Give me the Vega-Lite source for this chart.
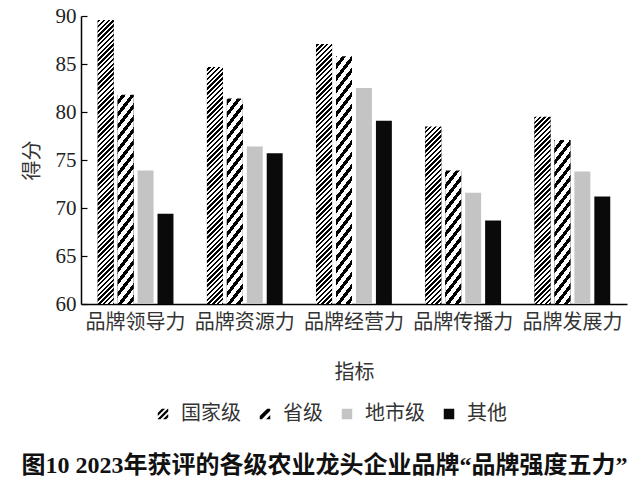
{
  "$schema": "https://vega.github.io/schema/vega-lite/v6.json",
  "width": 546,
  "height": 288,
  "autosize": "none",
  "padding": {"left": 81, "top": 16, "right": 13, "bottom": 178},
  "background": "white",
  "title": {
    "text": "图10 2023年获评的各级农业龙头企业品牌“品牌强度五力”",
    "orient": "bottom",
    "anchor": "middle",
    "frame": "bounds",
    "font": "Liberation Serif, Noto Sans CJK SC",
    "fontSize": 24,
    "fontWeight": "bold",
    "color": "#111",
    "offset": 30
  },
  "data": {
    "values": [
      {"indicator": "品牌领导力", "level": "国家级", "score": 89.7},
      {"indicator": "品牌领导力", "level": "省级", "score": 81.9},
      {"indicator": "品牌领导力", "level": "地市级", "score": 73.9},
      {"indicator": "品牌领导力", "level": "其他", "score": 69.4},
      {"indicator": "品牌资源力", "level": "国家级", "score": 84.8},
      {"indicator": "品牌资源力", "level": "省级", "score": 81.5},
      {"indicator": "品牌资源力", "level": "地市级", "score": 76.4},
      {"indicator": "品牌资源力", "level": "其他", "score": 75.7},
      {"indicator": "品牌经营力", "level": "国家级", "score": 87.2},
      {"indicator": "品牌经营力", "level": "省级", "score": 85.9},
      {"indicator": "品牌经营力", "level": "地市级", "score": 82.5},
      {"indicator": "品牌经营力", "level": "其他", "score": 79.1},
      {"indicator": "品牌传播力", "level": "国家级", "score": 78.6},
      {"indicator": "品牌传播力", "level": "省级", "score": 74.0},
      {"indicator": "品牌传播力", "level": "地市级", "score": 71.6},
      {"indicator": "品牌传播力", "level": "其他", "score": 68.7},
      {"indicator": "品牌发展力", "level": "国家级", "score": 79.6},
      {"indicator": "品牌发展力", "level": "省级", "score": 77.2},
      {"indicator": "品牌发展力", "level": "地市级", "score": 73.8},
      {"indicator": "品牌发展力", "level": "其他", "score": 71.2}
    ]
  },
  "encoding": {
    "x": {
      "field": "indicator",
      "type": "nominal",
      "sort": ["品牌领导力", "品牌资源力", "品牌经营力", "品牌传播力", "品牌发展力"],
      "scale": {"paddingInner": 0.27, "paddingOuter": 0.135},
      "axis": {
        "title": "指标",
        "labelAngle": 0,
        "ticks": false,
        "domainColor": "#000",
        "domainWidth": 1.5,
        "labelFont": "Noto Sans CJK SC",
        "labelFontSize": 20,
        "labelColor": "#333",
        "labelPadding": 8,
        "titleFont": "Noto Sans CJK SC",
        "titleFontSize": 20,
        "titleFontWeight": "normal",
        "titleColor": "#333",
        "titlePadding": 30
      }
    },
    "xOffset": {
      "field": "level",
      "type": "nominal",
      "scale": {"domain": ["国家级", "省级", "地市级", "其他"], "paddingInner": 0.2, "paddingOuter": 0.1}
    }
  },
  "layer": [
    {
      "mark": {"type": "bar"},
      "encoding": {
        "y": {
          "field": "score",
          "type": "quantitative",
          "scale": {"domain": [60, 90], "zero": false, "nice": false},
          "axis": {
            "title": "得分",
            "values": [60, 65, 70, 75, 80, 85, 90],
            "grid": false,
            "domainColor": "#000",
            "domainWidth": 1.5,
            "tickColor": "#000",
            "tickWidth": 1.2,
            "tickSize": -6,
            "labelFont": "Liberation Serif",
            "labelFontSize": 21,
            "labelColor": "#222",
            "labelPadding": 11,
            "titleFont": "Noto Sans CJK SC",
            "titleFontSize": 20,
            "titleFontWeight": "normal",
            "titleColor": "#333",
            "titlePadding": 13
          }
        },
        "y2": {"datum": 60},
        "color": {
          "field": "level",
          "type": "nominal",
          "scale": {
            "domain": ["国家级", "省级", "地市级", "其他"],
            "range": ["#000000", "#000000", "#c4c4c4", "#0a0a0a"]
          },
          "legend": {
            "title": null,
            "orient": "none",
            "legendX": 72,
            "legendY": 388,
            "direction": "horizontal"
          }
        }
      }
    },
    {
      "transform": [{"filter": "datum.level === '国家级'"}],
      "layer": [
        {"mark": {"type": "bar", "fill": {"gradient": "linear", "x1": 0, "y1": 0, "x2": 0.47856, "y2": 1.44109, "stops": [{"offset":0,"color":"#000"},{"offset":0.03125,"color":"#000"},{"offset":0.03125,"color":"#fff"},{"offset":0.0625,"color":"#fff"},{"offset":0.0625,"color":"#000"},{"offset":0.09375,"color":"#000"},{"offset":0.09375,"color":"#fff"},{"offset":0.125,"color":"#fff"},{"offset":0.125,"color":"#000"},{"offset":0.15625,"color":"#000"},{"offset":0.15625,"color":"#fff"},{"offset":0.1875,"color":"#fff"},{"offset":0.1875,"color":"#000"},{"offset":0.21875,"color":"#000"},{"offset":0.21875,"color":"#fff"},{"offset":0.25,"color":"#fff"},{"offset":0.25,"color":"#000"},{"offset":0.28125,"color":"#000"},{"offset":0.28125,"color":"#fff"},{"offset":0.3125,"color":"#fff"},{"offset":0.3125,"color":"#000"},{"offset":0.34375,"color":"#000"},{"offset":0.34375,"color":"#fff"},{"offset":0.375,"color":"#fff"},{"offset":0.375,"color":"#000"},{"offset":0.40625,"color":"#000"},{"offset":0.40625,"color":"#fff"},{"offset":0.4375,"color":"#fff"},{"offset":0.4375,"color":"#000"},{"offset":0.46875,"color":"#000"},{"offset":0.46875,"color":"#fff"},{"offset":0.5,"color":"#fff"},{"offset":0.5,"color":"#000"},{"offset":0.53125,"color":"#000"},{"offset":0.53125,"color":"#fff"},{"offset":0.5625,"color":"#fff"},{"offset":0.5625,"color":"#000"},{"offset":0.59375,"color":"#000"},{"offset":0.59375,"color":"#fff"},{"offset":0.625,"color":"#fff"},{"offset":0.625,"color":"#000"},{"offset":0.65625,"color":"#000"},{"offset":0.65625,"color":"#fff"},{"offset":0.6875,"color":"#fff"},{"offset":0.6875,"color":"#000"},{"offset":0.71875,"color":"#000"},{"offset":0.71875,"color":"#fff"},{"offset":0.75,"color":"#fff"},{"offset":0.75,"color":"#000"},{"offset":0.78125,"color":"#000"},{"offset":0.78125,"color":"#fff"},{"offset":0.8125,"color":"#fff"},{"offset":0.8125,"color":"#000"},{"offset":0.84375,"color":"#000"},{"offset":0.84375,"color":"#fff"},{"offset":0.875,"color":"#fff"},{"offset":0.875,"color":"#000"},{"offset":1,"color":"#000"}]}}, "encoding": {"y": {"datum": 65, "type": "quantitative"}, "y2": {"datum": 60}}},
        {"mark": {"type": "bar", "fill": {"gradient": "linear", "x1": 0, "y1": 0, "x2": 0.47856, "y2": 1.44109, "stops": [{"offset":0,"color":"#000"},{"offset":0.03125,"color":"#000"},{"offset":0.03125,"color":"#fff"},{"offset":0.0625,"color":"#fff"},{"offset":0.0625,"color":"#000"},{"offset":0.09375,"color":"#000"},{"offset":0.09375,"color":"#fff"},{"offset":0.125,"color":"#fff"},{"offset":0.125,"color":"#000"},{"offset":0.15625,"color":"#000"},{"offset":0.15625,"color":"#fff"},{"offset":0.1875,"color":"#fff"},{"offset":0.1875,"color":"#000"},{"offset":0.21875,"color":"#000"},{"offset":0.21875,"color":"#fff"},{"offset":0.25,"color":"#fff"},{"offset":0.25,"color":"#000"},{"offset":0.28125,"color":"#000"},{"offset":0.28125,"color":"#fff"},{"offset":0.3125,"color":"#fff"},{"offset":0.3125,"color":"#000"},{"offset":0.34375,"color":"#000"},{"offset":0.34375,"color":"#fff"},{"offset":0.375,"color":"#fff"},{"offset":0.375,"color":"#000"},{"offset":0.40625,"color":"#000"},{"offset":0.40625,"color":"#fff"},{"offset":0.4375,"color":"#fff"},{"offset":0.4375,"color":"#000"},{"offset":0.46875,"color":"#000"},{"offset":0.46875,"color":"#fff"},{"offset":0.5,"color":"#fff"},{"offset":0.5,"color":"#000"},{"offset":0.53125,"color":"#000"},{"offset":0.53125,"color":"#fff"},{"offset":0.5625,"color":"#fff"},{"offset":0.5625,"color":"#000"},{"offset":0.59375,"color":"#000"},{"offset":0.59375,"color":"#fff"},{"offset":0.625,"color":"#fff"},{"offset":0.625,"color":"#000"},{"offset":0.65625,"color":"#000"},{"offset":0.65625,"color":"#fff"},{"offset":0.6875,"color":"#fff"},{"offset":0.6875,"color":"#000"},{"offset":0.71875,"color":"#000"},{"offset":0.71875,"color":"#fff"},{"offset":0.75,"color":"#fff"},{"offset":0.75,"color":"#000"},{"offset":0.78125,"color":"#000"},{"offset":0.78125,"color":"#fff"},{"offset":0.8125,"color":"#fff"},{"offset":0.8125,"color":"#000"},{"offset":0.84375,"color":"#000"},{"offset":0.84375,"color":"#fff"},{"offset":0.875,"color":"#fff"},{"offset":0.875,"color":"#000"},{"offset":1,"color":"#000"}]}}, "encoding": {"y": {"datum": 70, "type": "quantitative"}, "y2": {"datum": 65}}},
        {"mark": {"type": "bar", "fill": {"gradient": "linear", "x1": 0, "y1": 0, "x2": 0.47856, "y2": 1.44109, "stops": [{"offset":0,"color":"#000"},{"offset":0.03125,"color":"#000"},{"offset":0.03125,"color":"#fff"},{"offset":0.0625,"color":"#fff"},{"offset":0.0625,"color":"#000"},{"offset":0.09375,"color":"#000"},{"offset":0.09375,"color":"#fff"},{"offset":0.125,"color":"#fff"},{"offset":0.125,"color":"#000"},{"offset":0.15625,"color":"#000"},{"offset":0.15625,"color":"#fff"},{"offset":0.1875,"color":"#fff"},{"offset":0.1875,"color":"#000"},{"offset":0.21875,"color":"#000"},{"offset":0.21875,"color":"#fff"},{"offset":0.25,"color":"#fff"},{"offset":0.25,"color":"#000"},{"offset":0.28125,"color":"#000"},{"offset":0.28125,"color":"#fff"},{"offset":0.3125,"color":"#fff"},{"offset":0.3125,"color":"#000"},{"offset":0.34375,"color":"#000"},{"offset":0.34375,"color":"#fff"},{"offset":0.375,"color":"#fff"},{"offset":0.375,"color":"#000"},{"offset":0.40625,"color":"#000"},{"offset":0.40625,"color":"#fff"},{"offset":0.4375,"color":"#fff"},{"offset":0.4375,"color":"#000"},{"offset":0.46875,"color":"#000"},{"offset":0.46875,"color":"#fff"},{"offset":0.5,"color":"#fff"},{"offset":0.5,"color":"#000"},{"offset":0.53125,"color":"#000"},{"offset":0.53125,"color":"#fff"},{"offset":0.5625,"color":"#fff"},{"offset":0.5625,"color":"#000"},{"offset":0.59375,"color":"#000"},{"offset":0.59375,"color":"#fff"},{"offset":0.625,"color":"#fff"},{"offset":0.625,"color":"#000"},{"offset":0.65625,"color":"#000"},{"offset":0.65625,"color":"#fff"},{"offset":0.6875,"color":"#fff"},{"offset":0.6875,"color":"#000"},{"offset":0.71875,"color":"#000"},{"offset":0.71875,"color":"#fff"},{"offset":0.75,"color":"#fff"},{"offset":0.75,"color":"#000"},{"offset":0.78125,"color":"#000"},{"offset":0.78125,"color":"#fff"},{"offset":0.8125,"color":"#fff"},{"offset":0.8125,"color":"#000"},{"offset":0.84375,"color":"#000"},{"offset":0.84375,"color":"#fff"},{"offset":0.875,"color":"#fff"},{"offset":0.875,"color":"#000"},{"offset":1,"color":"#000"}]}}, "encoding": {"y": {"datum": 75, "type": "quantitative"}, "y2": {"datum": 70}}},
        {"mark": {"type": "bar", "fill": {"gradient": "linear", "x1": 0, "y1": 0, "x2": 0.47856, "y2": 1.44109, "stops": [{"offset":0,"color":"#000"},{"offset":0.03125,"color":"#000"},{"offset":0.03125,"color":"#fff"},{"offset":0.0625,"color":"#fff"},{"offset":0.0625,"color":"#000"},{"offset":0.09375,"color":"#000"},{"offset":0.09375,"color":"#fff"},{"offset":0.125,"color":"#fff"},{"offset":0.125,"color":"#000"},{"offset":0.15625,"color":"#000"},{"offset":0.15625,"color":"#fff"},{"offset":0.1875,"color":"#fff"},{"offset":0.1875,"color":"#000"},{"offset":0.21875,"color":"#000"},{"offset":0.21875,"color":"#fff"},{"offset":0.25,"color":"#fff"},{"offset":0.25,"color":"#000"},{"offset":0.28125,"color":"#000"},{"offset":0.28125,"color":"#fff"},{"offset":0.3125,"color":"#fff"},{"offset":0.3125,"color":"#000"},{"offset":0.34375,"color":"#000"},{"offset":0.34375,"color":"#fff"},{"offset":0.375,"color":"#fff"},{"offset":0.375,"color":"#000"},{"offset":0.40625,"color":"#000"},{"offset":0.40625,"color":"#fff"},{"offset":0.4375,"color":"#fff"},{"offset":0.4375,"color":"#000"},{"offset":0.46875,"color":"#000"},{"offset":0.46875,"color":"#fff"},{"offset":0.5,"color":"#fff"},{"offset":0.5,"color":"#000"},{"offset":0.53125,"color":"#000"},{"offset":0.53125,"color":"#fff"},{"offset":0.5625,"color":"#fff"},{"offset":0.5625,"color":"#000"},{"offset":0.59375,"color":"#000"},{"offset":0.59375,"color":"#fff"},{"offset":0.625,"color":"#fff"},{"offset":0.625,"color":"#000"},{"offset":0.65625,"color":"#000"},{"offset":0.65625,"color":"#fff"},{"offset":0.6875,"color":"#fff"},{"offset":0.6875,"color":"#000"},{"offset":0.71875,"color":"#000"},{"offset":0.71875,"color":"#fff"},{"offset":0.75,"color":"#fff"},{"offset":0.75,"color":"#000"},{"offset":0.78125,"color":"#000"},{"offset":0.78125,"color":"#fff"},{"offset":0.8125,"color":"#fff"},{"offset":0.8125,"color":"#000"},{"offset":0.84375,"color":"#000"},{"offset":0.84375,"color":"#fff"},{"offset":0.875,"color":"#fff"},{"offset":0.875,"color":"#000"},{"offset":1,"color":"#000"}]}}, "encoding": {"y": {"datum": 80, "type": "quantitative"}, "y2": {"datum": 75}}},
        {"mark": {"type": "bar", "fill": {"gradient": "linear", "x1": 0, "y1": 0, "x2": 0.47856, "y2": 1.44109, "stops": [{"offset":0,"color":"#000"},{"offset":0.03125,"color":"#000"},{"offset":0.03125,"color":"#fff"},{"offset":0.0625,"color":"#fff"},{"offset":0.0625,"color":"#000"},{"offset":0.09375,"color":"#000"},{"offset":0.09375,"color":"#fff"},{"offset":0.125,"color":"#fff"},{"offset":0.125,"color":"#000"},{"offset":0.15625,"color":"#000"},{"offset":0.15625,"color":"#fff"},{"offset":0.1875,"color":"#fff"},{"offset":0.1875,"color":"#000"},{"offset":0.21875,"color":"#000"},{"offset":0.21875,"color":"#fff"},{"offset":0.25,"color":"#fff"},{"offset":0.25,"color":"#000"},{"offset":0.28125,"color":"#000"},{"offset":0.28125,"color":"#fff"},{"offset":0.3125,"color":"#fff"},{"offset":0.3125,"color":"#000"},{"offset":0.34375,"color":"#000"},{"offset":0.34375,"color":"#fff"},{"offset":0.375,"color":"#fff"},{"offset":0.375,"color":"#000"},{"offset":0.40625,"color":"#000"},{"offset":0.40625,"color":"#fff"},{"offset":0.4375,"color":"#fff"},{"offset":0.4375,"color":"#000"},{"offset":0.46875,"color":"#000"},{"offset":0.46875,"color":"#fff"},{"offset":0.5,"color":"#fff"},{"offset":0.5,"color":"#000"},{"offset":0.53125,"color":"#000"},{"offset":0.53125,"color":"#fff"},{"offset":0.5625,"color":"#fff"},{"offset":0.5625,"color":"#000"},{"offset":0.59375,"color":"#000"},{"offset":0.59375,"color":"#fff"},{"offset":0.625,"color":"#fff"},{"offset":0.625,"color":"#000"},{"offset":0.65625,"color":"#000"},{"offset":0.65625,"color":"#fff"},{"offset":0.6875,"color":"#fff"},{"offset":0.6875,"color":"#000"},{"offset":0.71875,"color":"#000"},{"offset":0.71875,"color":"#fff"},{"offset":0.75,"color":"#fff"},{"offset":0.75,"color":"#000"},{"offset":0.78125,"color":"#000"},{"offset":0.78125,"color":"#fff"},{"offset":0.8125,"color":"#fff"},{"offset":0.8125,"color":"#000"},{"offset":0.84375,"color":"#000"},{"offset":0.84375,"color":"#fff"},{"offset":0.875,"color":"#fff"},{"offset":0.875,"color":"#000"},{"offset":1,"color":"#000"}]}}, "encoding": {"y": {"datum": 85, "type": "quantitative"}, "y2": {"datum": 80}}},
        {"mark": {"type": "bar", "fill": {"gradient": "linear", "x1": 0, "y1": 0, "x2": 0.47856, "y2": 1.44109, "stops": [{"offset":0,"color":"#000"},{"offset":0.03125,"color":"#000"},{"offset":0.03125,"color":"#fff"},{"offset":0.0625,"color":"#fff"},{"offset":0.0625,"color":"#000"},{"offset":0.09375,"color":"#000"},{"offset":0.09375,"color":"#fff"},{"offset":0.125,"color":"#fff"},{"offset":0.125,"color":"#000"},{"offset":0.15625,"color":"#000"},{"offset":0.15625,"color":"#fff"},{"offset":0.1875,"color":"#fff"},{"offset":0.1875,"color":"#000"},{"offset":0.21875,"color":"#000"},{"offset":0.21875,"color":"#fff"},{"offset":0.25,"color":"#fff"},{"offset":0.25,"color":"#000"},{"offset":0.28125,"color":"#000"},{"offset":0.28125,"color":"#fff"},{"offset":0.3125,"color":"#fff"},{"offset":0.3125,"color":"#000"},{"offset":0.34375,"color":"#000"},{"offset":0.34375,"color":"#fff"},{"offset":0.375,"color":"#fff"},{"offset":0.375,"color":"#000"},{"offset":0.40625,"color":"#000"},{"offset":0.40625,"color":"#fff"},{"offset":0.4375,"color":"#fff"},{"offset":0.4375,"color":"#000"},{"offset":0.46875,"color":"#000"},{"offset":0.46875,"color":"#fff"},{"offset":0.5,"color":"#fff"},{"offset":0.5,"color":"#000"},{"offset":0.53125,"color":"#000"},{"offset":0.53125,"color":"#fff"},{"offset":0.5625,"color":"#fff"},{"offset":0.5625,"color":"#000"},{"offset":0.59375,"color":"#000"},{"offset":0.59375,"color":"#fff"},{"offset":0.625,"color":"#fff"},{"offset":0.625,"color":"#000"},{"offset":0.65625,"color":"#000"},{"offset":0.65625,"color":"#fff"},{"offset":0.6875,"color":"#fff"},{"offset":0.6875,"color":"#000"},{"offset":0.71875,"color":"#000"},{"offset":0.71875,"color":"#fff"},{"offset":0.75,"color":"#fff"},{"offset":0.75,"color":"#000"},{"offset":0.78125,"color":"#000"},{"offset":0.78125,"color":"#fff"},{"offset":0.8125,"color":"#fff"},{"offset":0.8125,"color":"#000"},{"offset":0.84375,"color":"#000"},{"offset":0.84375,"color":"#fff"},{"offset":0.875,"color":"#fff"},{"offset":0.875,"color":"#000"},{"offset":1,"color":"#000"}]}}, "encoding": {"y": {"datum": 90, "type": "quantitative"}, "y2": {"datum": 85}}}
      ]
    },
    {
      "transform": [{"filter": "datum.level === '省级'"}],
      "layer": [
        {"mark": {"type": "bar", "fill": {"gradient": "linear", "x1": 0, "y1": 0, "x2": 0.54584, "y2": 1.26438, "stops": [{"offset":0,"color":"#000"},{"offset":0.075,"color":"#000"},{"offset":0.075,"color":"#fff"},{"offset":0.1667,"color":"#fff"},{"offset":0.1667,"color":"#000"},{"offset":0.2417,"color":"#000"},{"offset":0.2417,"color":"#fff"},{"offset":0.3333,"color":"#fff"},{"offset":0.3333,"color":"#000"},{"offset":0.4083,"color":"#000"},{"offset":0.4083,"color":"#fff"},{"offset":0.5,"color":"#fff"},{"offset":0.5,"color":"#000"},{"offset":0.575,"color":"#000"},{"offset":0.575,"color":"#fff"},{"offset":0.6667,"color":"#fff"},{"offset":0.6667,"color":"#000"},{"offset":0.7417,"color":"#000"},{"offset":0.7417,"color":"#fff"},{"offset":0.8333,"color":"#fff"},{"offset":0.8333,"color":"#000"},{"offset":0.9083,"color":"#000"},{"offset":0.9083,"color":"#fff"},{"offset":1,"color":"#fff"}]}}, "encoding": {"y": {"datum": 65, "type": "quantitative"}, "y2": {"datum": 60}}},
        {"mark": {"type": "bar", "fill": {"gradient": "linear", "x1": 0, "y1": 0, "x2": 0.54584, "y2": 1.26438, "stops": [{"offset":0,"color":"#000"},{"offset":0.075,"color":"#000"},{"offset":0.075,"color":"#fff"},{"offset":0.1667,"color":"#fff"},{"offset":0.1667,"color":"#000"},{"offset":0.2417,"color":"#000"},{"offset":0.2417,"color":"#fff"},{"offset":0.3333,"color":"#fff"},{"offset":0.3333,"color":"#000"},{"offset":0.4083,"color":"#000"},{"offset":0.4083,"color":"#fff"},{"offset":0.5,"color":"#fff"},{"offset":0.5,"color":"#000"},{"offset":0.575,"color":"#000"},{"offset":0.575,"color":"#fff"},{"offset":0.6667,"color":"#fff"},{"offset":0.6667,"color":"#000"},{"offset":0.7417,"color":"#000"},{"offset":0.7417,"color":"#fff"},{"offset":0.8333,"color":"#fff"},{"offset":0.8333,"color":"#000"},{"offset":0.9083,"color":"#000"},{"offset":0.9083,"color":"#fff"},{"offset":1,"color":"#fff"}]}}, "encoding": {"y": {"datum": 70, "type": "quantitative"}, "y2": {"datum": 65}}},
        {"mark": {"type": "bar", "fill": {"gradient": "linear", "x1": 0, "y1": 0, "x2": 0.54584, "y2": 1.26438, "stops": [{"offset":0,"color":"#000"},{"offset":0.075,"color":"#000"},{"offset":0.075,"color":"#fff"},{"offset":0.1667,"color":"#fff"},{"offset":0.1667,"color":"#000"},{"offset":0.2417,"color":"#000"},{"offset":0.2417,"color":"#fff"},{"offset":0.3333,"color":"#fff"},{"offset":0.3333,"color":"#000"},{"offset":0.4083,"color":"#000"},{"offset":0.4083,"color":"#fff"},{"offset":0.5,"color":"#fff"},{"offset":0.5,"color":"#000"},{"offset":0.575,"color":"#000"},{"offset":0.575,"color":"#fff"},{"offset":0.6667,"color":"#fff"},{"offset":0.6667,"color":"#000"},{"offset":0.7417,"color":"#000"},{"offset":0.7417,"color":"#fff"},{"offset":0.8333,"color":"#fff"},{"offset":0.8333,"color":"#000"},{"offset":0.9083,"color":"#000"},{"offset":0.9083,"color":"#fff"},{"offset":1,"color":"#fff"}]}}, "encoding": {"y": {"datum": 75, "type": "quantitative"}, "y2": {"datum": 70}}},
        {"mark": {"type": "bar", "fill": {"gradient": "linear", "x1": 0, "y1": 0, "x2": 0.54584, "y2": 1.26438, "stops": [{"offset":0,"color":"#000"},{"offset":0.075,"color":"#000"},{"offset":0.075,"color":"#fff"},{"offset":0.1667,"color":"#fff"},{"offset":0.1667,"color":"#000"},{"offset":0.2417,"color":"#000"},{"offset":0.2417,"color":"#fff"},{"offset":0.3333,"color":"#fff"},{"offset":0.3333,"color":"#000"},{"offset":0.4083,"color":"#000"},{"offset":0.4083,"color":"#fff"},{"offset":0.5,"color":"#fff"},{"offset":0.5,"color":"#000"},{"offset":0.575,"color":"#000"},{"offset":0.575,"color":"#fff"},{"offset":0.6667,"color":"#fff"},{"offset":0.6667,"color":"#000"},{"offset":0.7417,"color":"#000"},{"offset":0.7417,"color":"#fff"},{"offset":0.8333,"color":"#fff"},{"offset":0.8333,"color":"#000"},{"offset":0.9083,"color":"#000"},{"offset":0.9083,"color":"#fff"},{"offset":1,"color":"#fff"}]}}, "encoding": {"y": {"datum": 80, "type": "quantitative"}, "y2": {"datum": 75}}},
        {"mark": {"type": "bar", "fill": {"gradient": "linear", "x1": 0, "y1": 0, "x2": 0.54584, "y2": 1.26438, "stops": [{"offset":0,"color":"#000"},{"offset":0.075,"color":"#000"},{"offset":0.075,"color":"#fff"},{"offset":0.1667,"color":"#fff"},{"offset":0.1667,"color":"#000"},{"offset":0.2417,"color":"#000"},{"offset":0.2417,"color":"#fff"},{"offset":0.3333,"color":"#fff"},{"offset":0.3333,"color":"#000"},{"offset":0.4083,"color":"#000"},{"offset":0.4083,"color":"#fff"},{"offset":0.5,"color":"#fff"},{"offset":0.5,"color":"#000"},{"offset":0.575,"color":"#000"},{"offset":0.575,"color":"#fff"},{"offset":0.6667,"color":"#fff"},{"offset":0.6667,"color":"#000"},{"offset":0.7417,"color":"#000"},{"offset":0.7417,"color":"#fff"},{"offset":0.8333,"color":"#fff"},{"offset":0.8333,"color":"#000"},{"offset":0.9083,"color":"#000"},{"offset":0.9083,"color":"#fff"},{"offset":1,"color":"#fff"}]}}, "encoding": {"y": {"datum": 85, "type": "quantitative"}, "y2": {"datum": 80}}},
        {"mark": {"type": "bar", "fill": {"gradient": "linear", "x1": 0, "y1": 0, "x2": 0.54584, "y2": 1.26438, "stops": [{"offset":0,"color":"#000"},{"offset":0.075,"color":"#000"},{"offset":0.075,"color":"#fff"},{"offset":0.1667,"color":"#fff"},{"offset":0.1667,"color":"#000"},{"offset":0.2417,"color":"#000"},{"offset":0.2417,"color":"#fff"},{"offset":0.3333,"color":"#fff"},{"offset":0.3333,"color":"#000"},{"offset":0.4083,"color":"#000"},{"offset":0.4083,"color":"#fff"},{"offset":0.5,"color":"#fff"},{"offset":0.5,"color":"#000"},{"offset":0.575,"color":"#000"},{"offset":0.575,"color":"#fff"},{"offset":0.6667,"color":"#fff"},{"offset":0.6667,"color":"#000"},{"offset":0.7417,"color":"#000"},{"offset":0.7417,"color":"#fff"},{"offset":0.8333,"color":"#fff"},{"offset":0.8333,"color":"#000"},{"offset":0.9083,"color":"#000"},{"offset":0.9083,"color":"#fff"},{"offset":1,"color":"#fff"}]}}, "encoding": {"y": {"datum": 90, "type": "quantitative"}, "y2": {"datum": 85}}}
      ]
    },
    {
      "transform": [{"filter": "datum.level === '国家级' || datum.level === '省级'"}],
      "mark": {"type": "bar", "fill": "#ffffff", "stroke": "#ffffff", "strokeWidth": 2},
      "encoding": {
        "y": {"field": "score", "type": "quantitative"},
        "y2": {"datum": 90}
      }
    },
    {
      "mark": {"type": "point", "filled": true, "opacity": 0},
      "encoding": {
        "y": {"field": "score", "type": "quantitative"},
        "color": {"field": "level", "type": "nominal"},
        "shape": {
          "field": "level",
          "type": "nominal",
          "scale": {
            "domain": ["国家级", "省级", "地市级", "其他"],
            "range": [
              "M-1,-0.2L-0.2,-1L0.4,-1L-1,0.4Z M-1,0.9L0.9,-1L1,-1L1,-0.5L-0.5,1L-1,1Z M0,1L1,0L1,0.6L0.6,1Z",
              "M-1,0.4L0.4,-1L1,-1L1,-0.6L-0.6,1L-1,1Z M0.2,1L1,0.2L1,1Z",
              "square",
              "square"
            ]
          },
          "legend": {"title": null}
        }
      }
    }
  ],
  "config": {
    "view": {"stroke": null},
    "legend": {
      "symbolOpacity": 1,
      "symbolSize": 110,
      "symbolStrokeWidth": 0,
      "labelFont": "Noto Sans CJK SC",
      "labelFontSize": 20,
      "labelColor": "#333",
      "labelOffset": 8,
      "columnPadding": 14
    }
  }
}
